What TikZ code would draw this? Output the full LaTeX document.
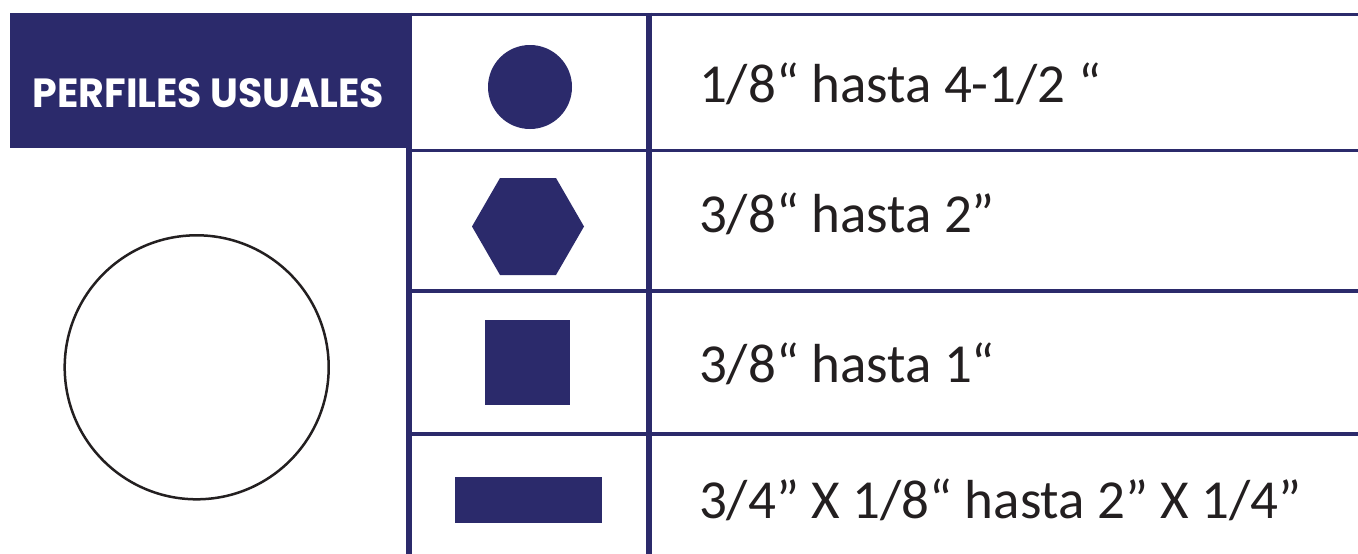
\documentclass[tikz,border=0pt]{standalone}
\usepackage{fontspec}
\setmainfont{Carlito}
\newfontfamily\headfont{Poppins}
\usetikzlibrary{shapes.geometric}
\definecolor{navy}{RGB}{43,42,107}
\definecolor{ink}{RGB}{35,31,32}
\begin{document}
\begin{tikzpicture}[x=1pt,y=-1pt,
  hline/.style={draw=navy, line width=3.4pt},
  vline/.style={draw=navy, line width=6pt},
  shapefill/.style={fill=navy, draw=none, inner sep=0pt, outer sep=0pt},
  rowtext/.style={anchor=base west, inner sep=0pt, outer sep=0pt, text=ink, font=\fontsize{55}{66}\selectfont}]
\useasboundingbox (0,0) rectangle (1358,554);
\fill[white] (0,0) rectangle (1358,554);
% header box
\node[fill=navy, anchor=north west, minimum width=400pt, minimum height=135.7pt, inner sep=0pt, outer sep=0pt] (head) at (9.5,12.7) {};
\node[anchor=base west, inner sep=0pt, text=white] (title) at (32.5,107.3) {\resizebox{351.5pt}{29pt}{\headfont\bfseries PERFILES USUALES}};
% grid
\foreach \yy in {14.5,150.2,291,434} {
  \draw[hline] (406,\yy) -- (1358,\yy);
}
\draw[vline] (409,12.7) -- (409,554);
\draw[vline] (649,12.7) -- (649,554);
% shapes
\node[shapefill, circle, minimum size=84pt] (round) at (530,87) {};
\node[shapefill, regular polygon, regular polygon sides=6, minimum size=112pt] (hex) at (528,226.5) {};
\node[shapefill, rectangle, minimum width=85pt, minimum height=85pt] (square) at (527.5,362.5) {};
\node[shapefill, rectangle, minimum width=147pt, minimum height=46pt] (flat) at (528.5,500) {};
\node[draw=ink, fill=none, line width=2.5pt, circle, minimum size=264pt, inner sep=0pt] (outline) at (196.7,367.3) {};
% texts
\node[rowtext] (t1) at (699,102) {1/8“ hasta 4-1/2 “};
\node[rowtext] (t2) at (699,232.3) {3/8“ hasta 2”};
\node[rowtext] (t3) at (699,382) {3/8“ hasta 1“};
\node[rowtext] (t4) at (699,518) {3/4” X 1/8“ hasta 2” X 1/4”};
\end{tikzpicture}
\end{document}
